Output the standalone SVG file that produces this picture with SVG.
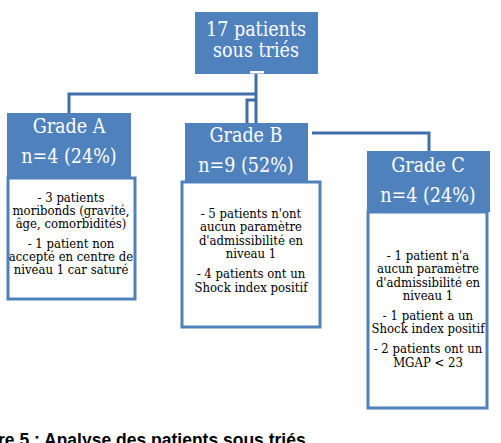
<svg xmlns="http://www.w3.org/2000/svg" width="501" height="443" viewBox="0 0 501 443">
<style>
.hdr{fill:#4F81BD;}
.body{fill:#fff;stroke:#4F81BD;stroke-width:3;}
.ht{font-family:"DejaVu Serif Condensed","DejaVu Serif","Liberation Serif",serif;font-stretch:condensed;fill:#fff;text-anchor:middle;}
.bt{font-family:"DejaVu Serif Condensed","DejaVu Serif","Liberation Serif",serif;font-stretch:condensed;fill:#000;text-anchor:middle;font-size:13px;}
.con{fill:none;stroke:#3F6FA8;stroke-width:3;}
</style>
<rect width="501" height="443" fill="#fff"/>
<g id="connectors">
<path class="con" d="M256 74 V123"/>
<path class="con" d="M256 94 H69 V113"/>
<path class="con" d="M256 100 H247 V123"/>
<path class="con" d="M312 133 H429 V151"/>
</g>
<g id="root">
<rect class="hdr" x="195" y="12" width="123" height="62"/>
<rect x="250" y="71" width="14" height="2.5" fill="#fff"/>
<text class="ht" x="256" y="36" font-size="19.5">17 patients</text>
<text class="ht" x="256" y="57" font-size="19.5">sous triés</text>
</g>
<g id="gradeA">
<rect class="hdr" x="7" y="113" width="124" height="64"/>
<text class="ht" x="69" y="133" font-size="19.5">Grade A</text>
<text class="ht" x="69" y="163" font-size="19.5">n=4 (24%)</text>
<rect class="body" x="8" y="178" width="127" height="121"/>
<text class="bt" x="71" y="202">- 3 patients</text>
<text class="bt" x="71" y="215">moribonds (gravité,</text>
<text class="bt" x="71" y="228">âge, comorbidités)</text>
<text class="bt" x="71" y="248">- 1 patient non</text>
<text class="bt" x="71" y="261">accepté en centre de</text>
<text class="bt" x="71" y="274">niveau 1 car saturé</text>
</g>
<g id="gradeB">
<rect class="hdr" x="185" y="123" width="123" height="59"/>
<text class="ht" x="246" y="142" font-size="19.5">Grade B</text>
<text class="ht" x="246" y="172" font-size="19.5">n=9 (52%)</text>
<rect class="body" x="182" y="182" width="138" height="145"/>
<text class="bt" x="251" y="218">- 5 patients n'ont</text>
<text class="bt" x="251" y="231">aucun paramètre</text>
<text class="bt" x="251" y="245">d'admissibilité en</text>
<text class="bt" x="251" y="258">niveau 1</text>
<text class="bt" x="251" y="278">- 4 patients ont un</text>
<text class="bt" x="251" y="292">Shock index positif</text>
</g>
<g id="gradeC">
<rect class="hdr" x="367" y="151" width="123" height="61"/>
<text class="ht" x="428" y="172" font-size="19.5">Grade C</text>
<text class="ht" x="428" y="202" font-size="19.5">n=4 (24%)</text>
<rect class="body" x="368" y="212" width="119" height="196"/>
<text class="bt" x="428" y="260">- 1 patient n'a</text>
<text class="bt" x="428" y="273">aucun paramètre</text>
<text class="bt" x="428" y="287">d'admissibilité en</text>
<text class="bt" x="428" y="300">niveau 1</text>
<text class="bt" x="428" y="320">- 1 patient a un</text>
<text class="bt" x="428" y="333">Shock index positif</text>
<text class="bt" x="428" y="353">- 2 patients ont un</text>
<text class="bt" x="428" y="367">MGAP &lt; 23</text>
</g>
<text x="-2" y="446" font-family="Liberation Sans,Arial,sans-serif" font-weight="bold" font-size="17.5" fill="#000">re 5 : Analyse des patients sous triés</text>
</svg>
